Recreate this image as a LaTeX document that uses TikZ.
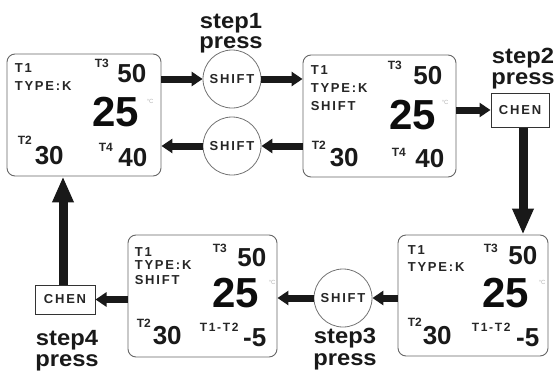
\documentclass[tikz,border=0pt]{standalone}
\usepackage{fontspec}
\setmainfont{Liberation Sans}
\newfontfamily\stepfont[FakeStretch=1.08]{Liberation Sans}
\newfontfamily\spacedfont[LetterSpace=14]{Liberation Sans}
\usetikzlibrary{arrows.meta}

\tikzset{
  display/.style={draw=black!60, line width=0.9pt, rounded corners=8pt, inner sep=0pt},
  knob/.style={circle, draw=black!55, line width=0.8pt, minimum size=58pt, inner sep=0pt,
    text=black!85, font=\spacedfont\bfseries\fontsize{13}{13}\selectfont},
  keybox/.style={draw=black!80, line width=1pt, inner sep=0pt, text=black!85,
    font=\spacedfont\bfseries\fontsize{13}{13}\selectfont},
  lbl/.style={inner sep=0pt, anchor=base west, text=black!85},
  small/.style={lbl, font=\spacedfont\bfseries\fontsize{13}{13}\selectfont},
  sup/.style={lbl, font=\bfseries\fontsize{12}{12}\selectfont},
  diff/.style={lbl, font=\spacedfont\bfseries\fontsize{12}{12}\selectfont},
  mid/.style={inner sep=0pt, text=black!90, font=\bfseries\fontsize{26}{26}\selectfont},
  big/.style={inner sep=0pt, anchor=base east, text=black!95, font=\bfseries\fontsize{42}{42}\selectfont},
  unit/.style={lbl, text=black!30, font=\fontsize{6}{6}\selectfont},
  steplbl/.style={inner sep=0pt, anchor=base, text=black!90,
    font=\stepfont\bfseries\fontsize{22}{22}\selectfont},
  harrow/.style={draw=black!90, line width=7pt, -{Triangle[length=11pt,width=14pt]}},
  varrow/.style={draw=black!90, line width=9pt, -{Triangle[length=26pt,width=20pt]}},
}

\begin{document}
\begin{tikzpicture}[x=1pt, y=-1pt]
\useasboundingbox (0,0) rectangle (556,372);

% ---- display panels ----
\node[display, minimum width=154pt, minimum height=122pt] (A) at (84,115) {};
\node[display, minimum width=153pt, minimum height=122pt] (B) at (379.5,116) {};
\node[display, minimum width=150pt, minimum height=121pt] (C) at (473,295.5) {};
\node[display, minimum width=149pt, minimum height=122pt] (D) at (202.5,296) {};

% ---- keys ----
\node[knob] (c1) at (232,79) {SHIFT};
\node[knob] (c2) at (232,146) {SHIFT};
\node[knob] (c3) at (343,298) {SHIFT};
\node[keybox, minimum width=58pt, minimum height=34pt] (k2) at (520,110) {CHEN};
\node[keybox, minimum width=60pt, minimum height=29pt] (k4) at (65,299.5) {CHEN};

% ---- step captions ----
\node[steplbl] (s1a) at (231,28) {step1};
\node[steplbl] (s1b) at (231,48) {press};
\node[steplbl] (s2a) at (523,63) {step2};
\node[steplbl] (s2b) at (523,84) {press};
\node[steplbl] (s3a) at (345,343) {step3};
\node[steplbl] (s3b) at (345,365) {press};
\node[steplbl] (s4a) at (67,345.5) {step4};
\node[steplbl] (s4b) at (67,366.5) {press};

% ---- panel A ----
\node[small] (a-t1) at ([shift={(8,19)}]A.north west) {T1};
\node[small] (a-type) at ([shift={(8,37)}]A.north west) {TYPE:K};
\node[sup] (a-t3) at ([shift={(88,14)}]A.north west) {T3};
\node[mid, anchor=base east] (a-t3v) at ([shift={(140,29)}]A.north west) {50};
\node[big] (a-pv) at ([shift={(133,73)}]A.north west) {25};
\node[unit] (a-u) at ([shift={(140,50)}]A.north west) {°C};
\node[sup] (a-t2) at ([shift={(11,91)}]A.north west) {T2};
\node[mid, anchor=base west] (a-t2v) at ([shift={(28,111)}]A.north west) {30};
\node[sup] (a-t4) at ([shift={(92,98)}]A.north west) {T4};
\node[mid, anchor=base east] (a-t4v) at ([shift={(141,113)}]A.north west) {40};

% ---- panel B ----
\node[small] (b-t1) at ([shift={(8,20)}]B.north west) {T1};
\node[small] (b-type) at ([shift={(8,38)}]B.north west) {TYPE:K};
\node[small] (b-mode) at ([shift={(8,56)}]B.north west) {SHIFT};
\node[sup] (b-t3) at ([shift={(85,15)}]B.north west) {T3};
\node[mid, anchor=base east] (b-t3v) at ([shift={(140,30)}]B.north west) {50};
\node[big] (b-pv) at ([shift={(134,75)}]B.north west) {25};
\node[unit] (b-u) at ([shift={(139,50)}]B.north west) {°C};
\node[sup] (b-t2) at ([shift={(9,95)}]B.north west) {T2};
\node[mid, anchor=base west] (b-t2v) at ([shift={(27,112)}]B.north west) {30};
\node[sup] (b-t4) at ([shift={(89,102)}]B.north west) {T4};
\node[mid, anchor=base east] (b-t4v) at ([shift={(142,113)}]B.north west) {40};

% ---- panel C ----
\node[small] (c-t1) at ([shift={(10,20)}]C.north west) {T1};
\node[small] (c-type) at ([shift={(10,37)}]C.north west) {TYPE:K};
\node[sup] (c-t3) at ([shift={(86,18)}]C.north west) {T3};
\node[mid, anchor=base east] (c-t3v) at ([shift={(140,30)}]C.north west) {50};
\node[big] (c-pv) at ([shift={(132,73)}]C.north west) {25};
\node[unit] (c-u) at ([shift={(141,50)}]C.north west) {°C};
\node[sup] (c-t2) at ([shift={(10,92)}]C.north west) {T2};
\node[mid, anchor=base west] (c-t2v) at ([shift={(25,110)}]C.north west) {30};
\node[diff] (c-dl) at ([shift={(74,97)}]C.north west) {T1-T2};
\node[mid, anchor=base east] (c-dv) at ([shift={(142,112)}]C.north west) {-5};

% ---- panel D ----
\node[small] (d-t1) at ([shift={(7,22)}]D.north west) {T1};
\node[small] (d-type) at ([shift={(7,35)}]D.north west) {TYPE:K};
\node[small] (d-mode) at ([shift={(7,50)}]D.north west) {SHIFT};
\node[sup] (d-t3) at ([shift={(85,18)}]D.north west) {T3};
\node[mid, anchor=base east] (d-t3v) at ([shift={(139,32)}]D.north west) {50};
\node[big] (d-pv) at ([shift={(132,73)}]D.north west) {25};
\node[unit] (d-u) at ([shift={(141,50)}]D.north west) {°C};
\node[sup] (d-t2) at ([shift={(9,93)}]D.north west) {T2};
\node[mid, anchor=base west] (d-t2v) at ([shift={(25,110)}]D.north west) {30};
\node[diff] (d-dl) at ([shift={(72,97)}]D.north west) {T1-T2};
\node[mid, anchor=base east] (d-dv) at ([shift={(139,112)}]D.north west) {-5};

% ---- connectors ----
\draw[harrow] (A.east |- c1) -- (c1.west);
\draw[harrow] (c1.east) -- (B.west |- c1);
\draw[harrow] (B.west |- c2) -- (c2.east);
\draw[harrow] (c2.west) -- (A.east |- c2);
\draw[harrow] (B.east |- k2) -- (k2.west);
\draw[varrow] ([xshift=3pt]k2.south) -- ([xshift=3pt]k2.south |- C.north);
\draw[harrow] (C.west |- c3) -- (c3.east);
\draw[harrow] (c3.west) -- (D.east |- c3);
\draw[harrow] (D.west |- k4) -- (k4.east);
\draw[varrow] ([xshift=-2pt]k4.north) -- ([xshift=-2pt]k4.north |- A.south);
\end{tikzpicture}
\end{document}
